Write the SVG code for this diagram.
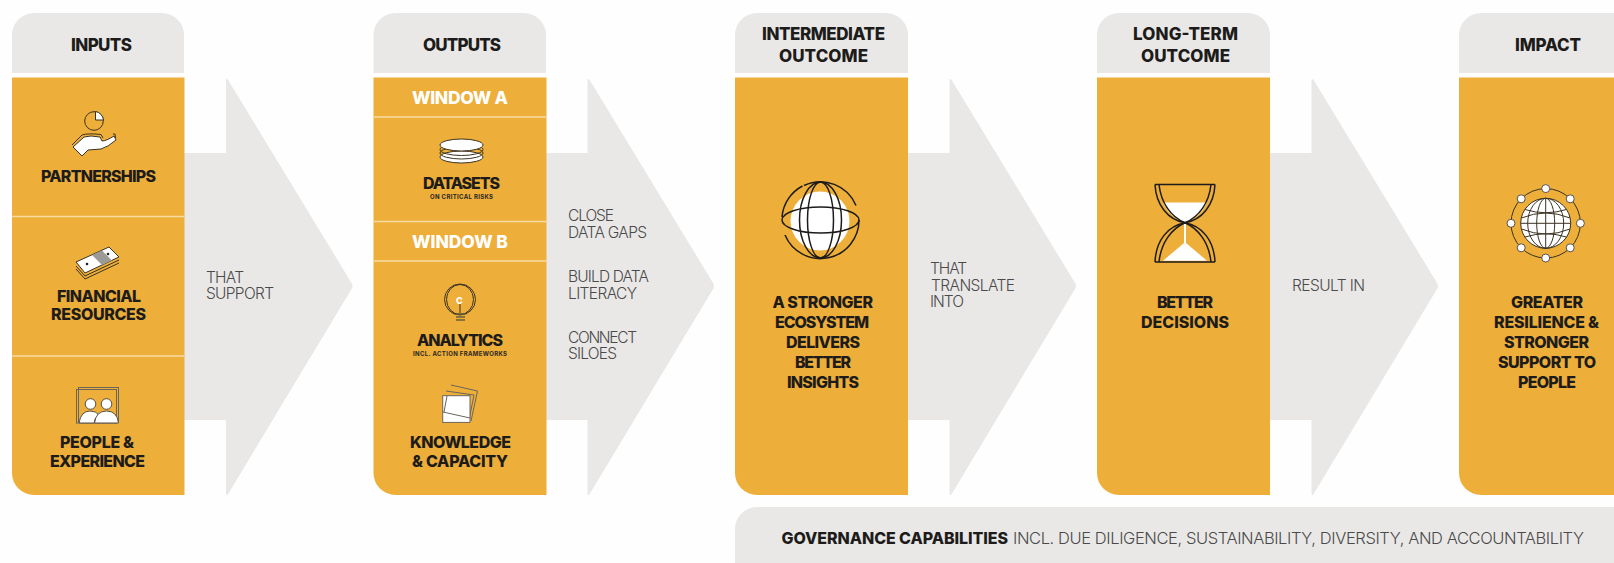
<svg xmlns="http://www.w3.org/2000/svg" width="1614" height="563" viewBox="0 0 1614 563">
<style>
.bg{fill:#fefefe}
.hd{fill:#e9e8e7}
.bd{fill:#edae3a}
.sep{stroke:#f7dca2;stroke-width:1.3;fill:none}
.ar{fill:#e9e8e7;stroke:#e9e8e7;stroke-width:2;stroke-linejoin:round}
.b{font-family:Inter,"Liberation Sans",sans-serif;font-weight:800;font-size:16px;fill:#1d1c1a}
.h{font-size:17px}
.w{fill:#fff;font-size:17.500px}
.s{font-size:6px;font-weight:700;fill:#2a2722}
.l{font-family:Inter,"Liberation Sans",sans-serif;font-weight:300;font-size:15.500px;fill:#4a4a4a}
.gv{font-size:16.500px}
.i{fill:none;stroke:#3a3222;stroke-width:1}
.t{fill:#fff;stroke:#3a3222;stroke-width:1}
.n{fill:#fff;stroke:#55504a;stroke-width:1}
.p{fill:none;stroke:#6a655c;stroke-width:1}
.g{fill:none;stroke:#1d1c1a;stroke-width:1.500}
</style>
<rect class="bg" width="1614" height="563"/>
<g id="connectors">
<path class="ar" d="M184 154H227V80L351 284Q352 286 351 288L227 494V419H184Z"/>
<path class="ar" d="M546 154H588.500V80L712.500 284Q713.500 286 712.500 288L588.500 494V419H546Z"/>
<path class="ar" d="M908 154H950.500V80L1074.500 284Q1075.500 286 1074.500 288L950.500 494V419H908Z"/>
<path class="ar" d="M1270 154H1312.500V80L1436.500 284Q1437.500 286 1436.500 288L1312.500 494V419H1270Z"/>
</g>
<g id="inputs">
<path class="hd" d="M12 73V35A22 22 0 0 1 34 13H162A22 22 0 0 1 184 35V73Z"/>
<path class="bd" d="M12 77.500H184.500V495H34A22 22 0 0 1 12 473Z"/>
<path class="sep" d="M12 216.500H184.500M12 356H184.500"/>
<text class="b h" x="71" y="51" textLength="61">INPUTS</text>
<text class="b" x="41" y="181.500" textLength="115">PARTNERSHIPS</text>
<text class="b" x="57" y="302" textLength="84">FINANCIAL</text>
<text class="b" x="51" y="320" textLength="95">RESOURCES</text>
<text class="b" x="60" y="448" textLength="74">PEOPLE &amp;</text>
<text class="b" x="50" y="467" textLength="95">EXPERIENCE</text>
<g id="icon-partnerships">
<circle class="i" cx="94" cy="121" r="9.300"/>
<path class="t" d="M95.500 111.500A9.500 9.500 0 0 1 103.500 120H95.500Z"/>
<path class="i" d="M72 145L82 135Q88 133 101 134.500L103 138"/>
<path class="i" d="M113 134L115 134L115.500 138"/>
<path class="t" d="M73 147L84 137Q90 135 100 137L102 141Q106 141 114 136L116 140Q108 147 101 149L88 150L82 156Z"/>
</g>
<g id="icon-money">
<path class="i" d="M76 266L85 276L119 260M76 269L85 279L119 263"/>
<path class="t" d="M76 262L109 247L119 257L85 273Z"/>
<path d="M92 255L102 250.500L112 260.500L102 265Z" fill="#9a9a96"/>
<circle cx="87" cy="264" r="1.300" fill="#222"/><circle cx="108" cy="254" r="1.300" fill="#222"/>
</g>
<g id="icon-people">
<rect class="p" x="78.500" y="387.500" width="40" height="35"/>
<rect class="p" x="76.500" y="389.500" width="40" height="33.500"/>
<circle class="n" cx="90.500" cy="404" r="5.300"/><circle class="n" cx="106.500" cy="404" r="5.300"/>
<path class="n" d="M79 423Q81 411 90 411Q96 411 99 415Q94 418 94 423Z"/>
<path class="n" d="M94.500 423Q96 411 106.500 411Q117 411 118.500 423Z"/>
</g>
</g>
<g id="outputs">
<path class="hd" d="M373.500 73V35A22 22 0 0 1 395.500 13H524A22 22 0 0 1 546 35V73Z"/>
<path class="bd" d="M373.500 77.500H546.500V495H395.500A22 22 0 0 1 373.500 473Z"/>
<path class="sep" d="M373.500 117H546.500M373.500 221.500H546.500M373.500 261H546.500"/>
<text class="b h" x="423" y="51" textLength="78">OUTPUTS</text>
<text class="b w" x="412" y="103.500" textLength="96">WINDOW A</text>
<text class="b w" x="412" y="247.500" textLength="96">WINDOW B</text>
<text class="b" x="423" y="189" textLength="77">DATASETS</text>
<text class="b s" x="430" y="199" textLength="63">ON CRITICAL RISKS</text>
<text class="b" x="417" y="346" textLength="86">ANALYTICS</text>
<text class="b s" x="413" y="356" textLength="94">INCL. ACTION FRAMEWORKS</text>
<text class="b" x="410" y="448" textLength="101">KNOWLEDGE</text>
<text class="b" x="412" y="467" textLength="96">&amp; CAPACITY</text>
<g id="icon-datasets">
<ellipse class="t" cx="461.500" cy="157" rx="21.500" ry="6"/>
<ellipse class="i" cx="461.500" cy="153" rx="21.500" ry="6"/>
<ellipse class="i" cx="461.500" cy="149.500" rx="21.500" ry="6"/>
<ellipse class="t" cx="461.500" cy="145" rx="21.500" ry="6"/>
</g>
<g id="icon-bulb">
<circle class="i" cx="460" cy="299.500" r="15.500"/>
<ellipse class="i" cx="460" cy="299.500" rx="13.500" ry="15"/>
<path d="M460 304V313" stroke="#3a3222" fill="none"/>
<text x="456" y="304" font-family="Inter,sans-serif" font-weight="800" font-size="9" fill="#fff">C</text>
<path d="M456 314H465M456 317H465M456 320H465" stroke="#6a5f3a" stroke-width="1.700" fill="none"/>
</g>
<g id="icon-knowledge">
<path class="p" d="M451 385L477.500 391L471 421"/>
<path class="p" d="M446 391L474 395L469 420"/>
<rect x="442.700" y="395.700" width="27.300" height="26.700" fill="#fff" stroke="#6a655c"/>
<path class="p" d="M443 412L470 418M444 412L447 396"/>
</g>
</g>
<g id="intermediate">
<path class="hd" d="M735 73V35A22 22 0 0 1 757 13H886A22 22 0 0 1 908 35V73Z"/>
<path class="bd" d="M735 77.500H908V495H757A22 22 0 0 1 735 473Z"/>
<text class="b h" x="762" y="40" textLength="123">INTERMEDIATE</text>
<text class="b h" x="779" y="62" textLength="89">OUTCOME</text>
<text class="b" x="772.500" y="308" textLength="100.500">A STRONGER</text>
<text class="b" x="775" y="328" textLength="94">ECOSYSTEM</text>
<text class="b" x="786" y="348" textLength="74">DELIVERS</text>
<text class="b" x="795" y="368" textLength="56">BETTER</text>
<text class="b" x="787" y="388" textLength="72">INSIGHTS</text>
<g id="icon-globe">
<circle cx="820" cy="221" r="29.500" fill="#fff"/>
<ellipse class="g" cx="820.500" cy="220" rx="38.500" ry="13"/>
<ellipse class="g" cx="820.500" cy="220" rx="13" ry="38"/>
<ellipse class="g" cx="820.500" cy="220" rx="21" ry="38"/>
<path class="g" d="M856 205.500A38.500 38.500 0 0 0 804 185.500"/>
<path class="g" d="M802.500 186A38.500 38.500 0 0 0 782 217"/>
<path class="g" d="M785 235A38.500 38.500 0 0 0 859 220"/>
</g>
</g>
<g id="longterm">
<path class="hd" d="M1097 73V35A22 22 0 0 1 1119 13H1248A22 22 0 0 1 1270 35V73Z"/>
<path class="bd" d="M1097 77.500H1270V495H1119A22 22 0 0 1 1097 473Z"/>
<text class="b h" x="1133" y="40" textLength="105">LONG-TERM</text>
<text class="b h" x="1141" y="62" textLength="89">OUTCOME</text>
<text class="b" x="1157" y="308" textLength="56">BETTER</text>
<text class="b" x="1141" y="328" textLength="88">DECISIONS</text>
<g id="icon-hourglass">
<path d="M1163 202.500H1207Q1200 218 1185 222.500Q1170 218 1163 202.500Z" fill="#fff"/>
<path d="M1184 223H1186V243L1207 260.700H1163L1184 243Z" fill="#fff"/>
<path class="g" d="M1155 184.500H1215M1155 262H1215"/>
<path class="g" d="M1155 184.500C1156 205 1168 220 1185 222.800C1202 220 1214 205 1215 184.500"/>
<path class="g" d="M1159 184.500C1161 203 1171 217 1185 222.800C1199 217 1209 203 1211 184.500"/>
<path class="g" d="M1155 262C1156 240 1168 226 1185 222.800C1202 226 1214 240 1215 262"/>
<path class="g" d="M1159 262C1161 243 1171 229 1185 222.800C1199 229 1209 243 1211 262"/>
</g>
</g>
<g id="impact">
<path class="hd" d="M1459 73V35A22 22 0 0 1 1481 13H1614V73Z"/>
<path class="bd" d="M1459 77.500H1614V495H1481A22 22 0 0 1 1459 473Z"/>
<text class="b h" x="1515" y="51" textLength="66">IMPACT</text>
<text class="b" x="1511" y="308" textLength="72">GREATER</text>
<text class="b" x="1494" y="328" textLength="105">RESILIENCE &amp;</text>
<text class="b" x="1504" y="348" textLength="85">STRONGER</text>
<text class="b" x="1498" y="368" textLength="98">SUPPORT TO</text>
<text class="b" x="1518" y="388" textLength="58">PEOPLE</text>
<g id="icon-impact">
<circle class="i" cx="1545.700" cy="223.300" r="34.700"/>
<circle class="t" cx="1545.700" cy="223.300" r="25"/>
<ellipse class="i" cx="1545.700" cy="223.300" rx="9" ry="25"/>
<ellipse class="i" cx="1545.700" cy="223.300" rx="18" ry="25"/>
<path class="i" d="M1545.700 198.300V248.300M1520.700 223.300H1570.700M1525 209.500Q1545.700 216 1566.400 209.500M1525 237Q1545.700 230.500 1566.400 237"/>
<path class="i" d="M1521.500 218Q1545.700 208 1570 218M1521.500 229Q1545.700 239 1570 229"/>
<g class="n">
<circle cx="1545.700" cy="188.600" r="4"/><circle cx="1570.200" cy="198.800" r="4"/><circle cx="1580.400" cy="223.300" r="4"/><circle cx="1570.200" cy="247.800" r="4"/><circle cx="1545.700" cy="258" r="4"/><circle cx="1521.200" cy="247.800" r="4"/><circle cx="1511" cy="223.300" r="4"/><circle cx="1521.200" cy="198.800" r="4"/>
</g>
</g>
</g>
<g id="labels">
<text class="l" x="206" y="282.500" textLength="38">THAT</text>
<text class="l" x="206" y="299" textLength="68">SUPPORT</text>
<text class="l" x="568" y="221" textLength="46">CLOSE</text>
<text class="l" x="568" y="238" textLength="79">DATA GAPS</text>
<text class="l" x="568" y="282" textLength="81">BUILD DATA</text>
<text class="l" x="568" y="299" textLength="69">LITERACY</text>
<text class="l" x="568" y="343" textLength="69">CONNECT</text>
<text class="l" x="568" y="359" textLength="49">SILOES</text>
<text class="l" x="930" y="274" textLength="37">THAT</text>
<text class="l" x="931" y="291" textLength="84">TRANSLATE</text>
<text class="l" x="930" y="307" textLength="34">INTO</text>
<text class="l" x="1292" y="291" textLength="73">RESULT IN</text>
</g>
<g id="governance">
<path class="hd" d="M735 563V529A22 22 0 0 1 757 507H1614V563Z"/>
<text class="b" x="781.500" y="543.500" textLength="226.500">GOVERNANCE CAPABILITIES</text>
<text class="l gv" x="1013" y="543.500" textLength="571">INCL. DUE DILIGENCE, SUSTAINABILITY, DIVERSITY, AND ACCOUNTABILITY</text>
</g>
</svg>
